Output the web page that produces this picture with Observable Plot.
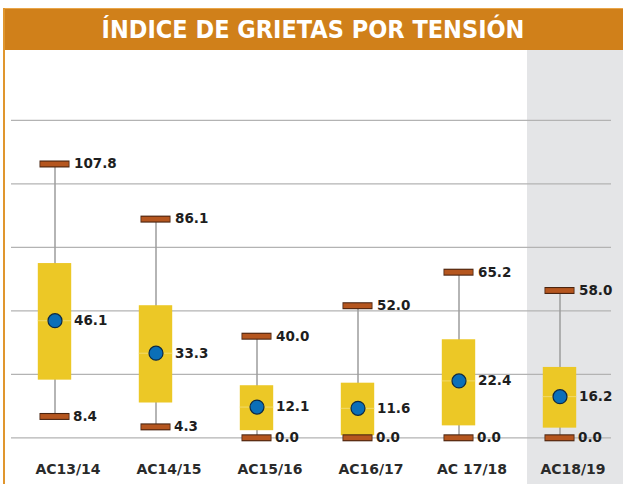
<!DOCTYPE html>
<html>
<head>
<meta charset="utf-8">
<script src="https://cdn.jsdelivr.net/npm/d3@7"></script>
<script src="https://cdn.jsdelivr.net/npm/@observablehq/plot@0.6"></script>
<style>
  html, body { margin: 0; padding: 0; background: #fff; }
  #wrap { position: relative; width: 623px; height: 484px; overflow: hidden; }
  #gap { height: 8px; }
  #title {
    height: 42px; margin-left: 3px; background: #d0801a; color: #fff;
    font-family: "Liberation Sans Narrow", "DejaVu Sans Condensed", "Roboto Condensed", sans-serif;
    font-size: 25px; font-weight: bold; line-height: 42px; text-align: center; letter-spacing: 0px;
    box-sizing: border-box; border-top: 1px solid #e9a548;
  }
  #leftline { position: absolute; left: 3px; top: 8px; width: 2px; height: 476px; background: #e0962e; }
  #shade { position: absolute; left: 527px; top: 50px; width: 96px; height: 434px; background: #e4e5e7; }
  #chart { position: absolute; left: 0; top: 49px; }
</style>
</head>
<body>
<div id="wrap">
  <div id="gap"></div>
  <div id="title">ÍNDICE DE GRIETAS POR TENSIÓN</div>
  <div id="shade"></div>
  <div id="leftline"></div>
  <div id="chart"></div>
</div>
<script>
const categories = ["AC13/14", "AC14/15", "AC15/16", "AC16/17", "AC 17/18", "AC18/19"];
const maxValues  = [107.8, 86.1, 40.0, 52.0, 65.2, 58.0];
const minValues  = [8.4, 4.3, 0.0, 0.0, 0.0, 0.0];
const meanValues = [46.1, 33.3, 12.1, 11.6, 22.4, 16.2];
const q1Values   = [22.7, 13.7, 2.8, 0.8, 4.7, 3.8];
const q3Values   = [68.6, 52.0, 20.5, 21.5, 38.6, 27.7];
const gridTicks  = [0, 25, 50, 75, 100, 125];

const data = categories.map((c, i) => ({
  cat: c, max: maxValues[i], min: minValues[i], mean: meanValues[i], q1: q1Values[i], q3: q3Values[i]
}));

const labelFont = "'DejaVu Sans', sans-serif";
const width = 623, step = 101.6;
const boxInset = (step - 34) / 2;
const capInset = (step - 29) / 2;

const plot = Plot.plot({
  width,
  height: 435,
  marginLeft: 2,
  marginRight: 11,
  marginTop: 70.8,
  marginBottom: 46.7,
  style: { background: "transparent", overflow: "visible" },
  x: { type: "band", domain: categories, padding: 0, label: null },
  y: { domain: [0, 125], axis: null },
  marks: [
    Plot.ruleY(gridTicks, { stroke: "#b3b3b3", strokeWidth: 1.3, insetLeft: 9, insetRight: 1 }),
    Plot.ruleX(data, { x: "cat", y1: "min", y2: "max", stroke: "#9c9c9c", strokeWidth: 1.5 }),
    Plot.barY(data, { x: "cat", y1: "q1", y2: "q3", fill: "#ecc826", insetLeft: boxInset, insetRight: boxInset }),
    Plot.tickY(data, { x: "cat", y: "mean", stroke: "#f2da6a", strokeWidth: 1, insetLeft: boxInset, insetRight: boxInset }),
    Plot.tickY(data, { x: "cat", y: "max", stroke: "#4a2410", strokeWidth: 7, insetLeft: capInset - 0.8, insetRight: capInset - 0.8 }),
    Plot.tickY(data, { x: "cat", y: "max", stroke: "#b5561f", strokeWidth: 4.8, insetLeft: capInset, insetRight: capInset }),
    Plot.tickY(data, { x: "cat", y: "min", stroke: "#4a2410", strokeWidth: 7, insetLeft: capInset - 0.8, insetRight: capInset - 0.8 }),
    Plot.tickY(data, { x: "cat", y: "min", stroke: "#b5561f", strokeWidth: 4.8, insetLeft: capInset, insetRight: capInset }),
    Plot.dot(data, { x: "cat", y: "mean", r: 7, fill: "#0b6fb8", stroke: "#0d2a45", strokeWidth: 1.2 }),
    Plot.text(data, { x: "cat", y: "max", text: d => d.max.toFixed(1), dx: 19, textAnchor: "start", fontSize: 13.5, fontWeight: "bold", fill: "#1e1e1e", fontFamily: labelFont }),
    Plot.text(data, { x: "cat", y: "min", text: d => d.min.toFixed(1), dx: 18, textAnchor: "start", fontSize: 13.5, fontWeight: "bold", fill: "#1e1e1e", fontFamily: labelFont }),
    Plot.text(data, { x: "cat", y: "mean", text: d => d.mean.toFixed(1), dx: 19, textAnchor: "start", fontSize: 13.5, fontWeight: "bold", fill: "#1e1e1e", fontFamily: labelFont }),
    Plot.axisX({ tickSize: 0, tickPadding: 26, dx: 13, fontSize: 14, fontWeight: "bold", fill: "#2a2a2a", fontFamily: labelFont, label: null })
  ]
});
document.getElementById("chart").appendChild(plot);
</script>
</body>
</html>
